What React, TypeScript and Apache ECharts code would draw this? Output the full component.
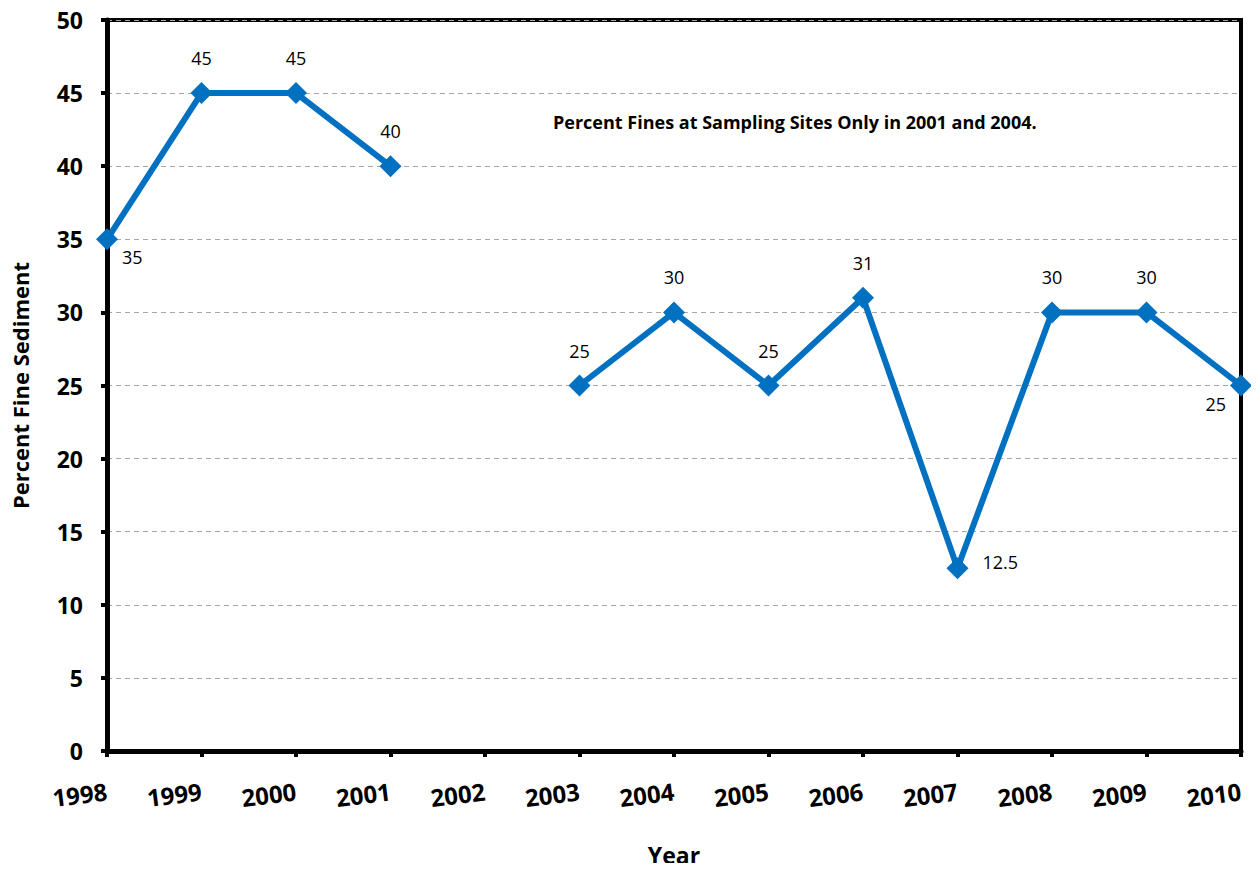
import React, { useEffect, useRef } from "react";
import * as echarts from "echarts";

const years = ["1998", "1999", "2000", "2001", "2002", "2003", "2004", "2005", "2006", "2007", "2008", "2009", "2010"];
const fines: (number | null)[] = [35, 45, 45, 40, null, 25, 30, 25, 31, 12.5, 30, 30, 25];
const labelPlacement = ["belowRight", "top", "top", "top", "none", "top", "top", "top", "top", "right", "top", "top", "belowLeft"];
const yTicks = [0, 5, 10, 15, 20, 25, 30, 35, 40, 45, 50];
const noteText = "Percent Fines at Sampling Sites Only in 2001 and 2004.";

const FONT = "'Open Sans', sans-serif";

export default function App() {
  const ref = useRef<HTMLDivElement>(null);
  useEffect(() => {
    if (!ref.current) return;
    const chart = echarts.init(ref.current, undefined, { renderer: "svg" });
    const data = fines.map((v, i) => {
      const p = labelPlacement[i];
      let label: any = { position: "top", distance: 15 };
      if (p === "belowRight") label = { position: "right", distance: 4, offset: [0, 18] };
      if (p === "belowLeft") label = { position: "left", distance: 4, offset: [0, 18] };
      if (p === "right") label = { position: "right", distance: 14, offset: [0, -6] };
      return { value: v, label };
    });
    chart.setOption({
      animation: false,
      backgroundColor: "#ffffff",
      grid: {
        left: 107,
        right: 18,
        top: 20,
        bottom: 120,
        show: true,
        borderColor: "#000",
        borderWidth: 4,
        containLabel: false,
      },
      graphic: [
        {
          type: "text",
          left: 553,
          top: 113,
          style: {
            text: noteText,
            fontFamily: FONT,
            fontWeight: "bold",
            fontSize: 18,
            fill: "#000",
          },
        },
      ],
      xAxis: {
        type: "category",
        data: years,
        boundaryGap: false,
        name: "Year",
        nameLocation: "middle",
        nameGap: 92,
        nameTextStyle: { fontFamily: FONT, fontWeight: "bold", fontSize: 23, color: "#000" },
        axisLine: { lineStyle: { color: "#000", width: 5 } },
        axisTick: { show: true, length: 6, lineStyle: { color: "#000", width: 4 } },
        axisLabel: {
          rotate: 7,
          margin: 40,
          fontFamily: FONT,
          fontWeight: "bold",
          fontSize: 24,
          color: "#000",
        },
        splitLine: { show: false },
      },
      yAxis: {
        type: "value",
        min: 0,
        max: 50,
        interval: 5,
        name: "Percent Fine Sediment",
        nameLocation: "middle",
        nameGap: 76,
        nameTextStyle: { fontFamily: FONT, fontWeight: "bold", fontSize: 22, color: "#000" },
        axisLine: { show: true, lineStyle: { color: "#000", width: 5 } },
        axisTick: { show: true, length: 6, lineStyle: { color: "#000", width: 4 } },
        axisLabel: {
          margin: 24,
          fontFamily: FONT,
          fontWeight: "bold",
          fontSize: 23,
          color: "#000",
          formatter: (v: number) => (yTicks.includes(v) ? String(v) : ""),
        },
        splitLine: { show: true, lineStyle: { color: "#a6a6a6", type: [5, 4], width: 1 } },
      },
      series: [
        {
          type: "line",
          data,
          connectNulls: false,
          symbol: "diamond",
          symbolSize: 22,
          lineStyle: { color: "#0070C0", width: 6 },
          itemStyle: { color: "#0070C0" },
          label: {
            show: true,
            fontFamily: FONT,
            fontSize: 18,
            color: "#000",
          },
          z: 5,
        },
      ],
    });
    return () => chart.dispose();
  }, []);
  return <div ref={ref} style={{ width: 1259, height: 871, margin: -8 }} />;
}
